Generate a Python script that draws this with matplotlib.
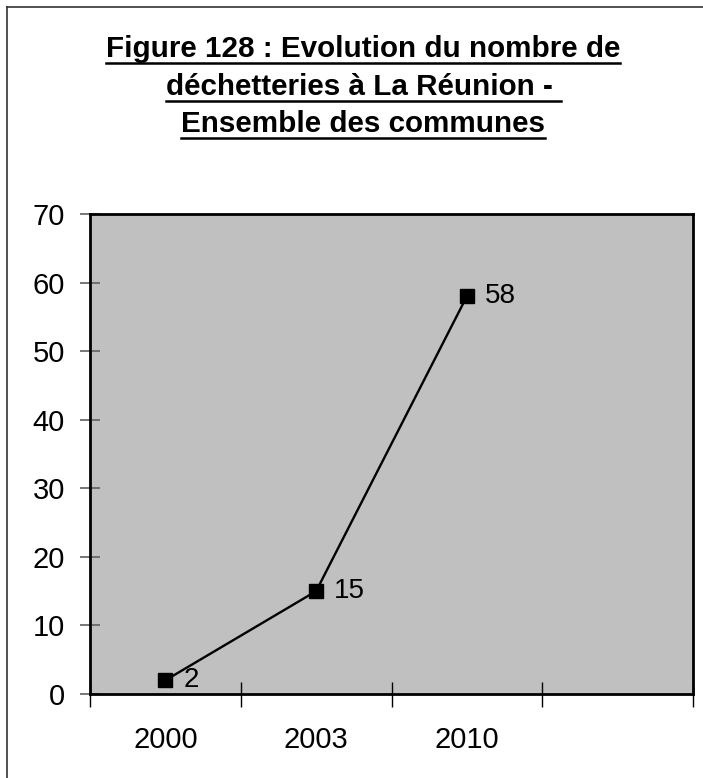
import matplotlib
matplotlib.use("Agg")
import matplotlib.pyplot as plt
from matplotlib.lines import Line2D

years = ["2000", "2003", "2010"]
values = [2, 15, 58]
yticks = [0, 10, 20, 30, 40, 50, 60, 70]
title_lines = ["Figure 128 : Evolution du nombre de",
               "déchetteries à La Réunion - ",
               "Ensemble des communes"]

plt.rcParams['font.family'] = ['Liberation Sans', 'DejaVu Sans']

W, H = 703, 778
fig = plt.figure(figsize=(W / 100, H / 100), dpi=100)
ax = fig.add_axes([90 / W, 1 - 694 / H, (693 - 90) / W, (694 - 214) / H])
ax.set_facecolor('#c0c0c0')

x = list(range(len(years)))
ax.plot(x, values, color='black', lw=1.7, marker='s', markersize=10,
        markerfacecolor='black', markeredgecolor='black', zorder=3)
for xi, v in zip(x, values):
    ax.annotate(str(v), (xi, v), xytext=(13, 0), textcoords='offset points',
                va='center', ha='left', fontsize=20)

ax.set_xlim(-0.5, 3.5)
ax.set_ylim(0, 70)
ax.set_yticks(yticks)
ax.set_yticklabels([str(t) for t in yticks], fontsize=21)
ax.tick_params(axis='y', direction='inout', length=14, width=1.2, color='#606060', pad=11)

ax.set_xticks([-0.5, 0.5, 1.5, 2.5, 3.5])
ax.set_xticklabels([])
ax.tick_params(axis='x', which='major', direction='inout', length=18, width=1.0, color='black')
ax.set_xticks(x, minor=True)
ax.set_xticklabels(years, minor=True, fontsize=21)
ax.tick_params(axis='x', which='minor', length=0, pad=23)

for s in ax.spines.values():
    s.set_linewidth(2)
    s.set_color('black')

# title
baselines = [57, 95, 132]
fig.canvas.draw()
r = fig.canvas.get_renderer()
for line, yb in zip(title_lines, baselines):
    t = fig.text(363 / W, 1 - yb / H, line, ha='center', va='baseline',
                 fontsize=21.3, fontweight='bold')
    bb = t.get_window_extent(renderer=r)
    uy = 1 - (yb + 6) / H
    fig.add_artist(Line2D([bb.x0 / W, bb.x1 / W], [uy, uy], color='black', lw=1.8))

# figure frame (top and left)
fig.add_artist(Line2D([7 / W, 1], [1 - 7 / H, 1 - 7 / H], color='#333333', lw=1.2))
fig.add_artist(Line2D([7 / W, 7 / W], [0, 1 - 7 / H], color='#333333', lw=1.2))

fig.savefig('out.png', dpi=100)
